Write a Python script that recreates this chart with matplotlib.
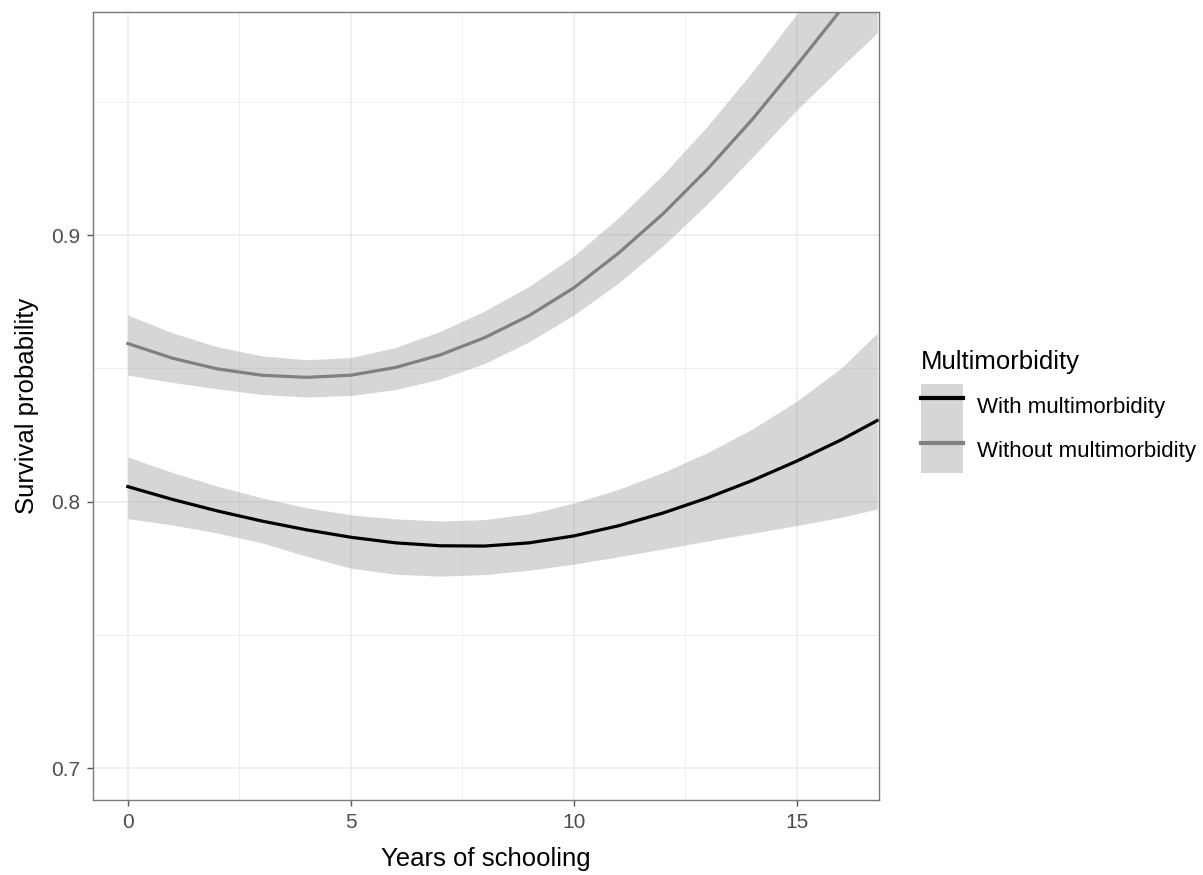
import matplotlib
matplotlib.use("Agg")
import matplotlib.pyplot as plt
from matplotlib.patches import Patch
from matplotlib.lines import Line2D

plt.rcParams["font.family"] = ["Liberation Sans", "DejaVu Sans"]

years = [0, 1, 2, 3, 4, 5, 6, 7, 8, 9, 10, 11, 12, 13, 14, 15, 16, 16.8]

# With multimorbidity (black)
with_fit = [0.8056, 0.8008, 0.7965, 0.7927, 0.7894, 0.7866, 0.7845, 0.7834, 0.7833,
            0.7845, 0.7871, 0.7909, 0.7957, 0.8014, 0.8079, 0.8152, 0.8232, 0.8304]
with_hi = [0.8167, 0.8109, 0.8058, 0.8014, 0.7977, 0.7950, 0.7935, 0.7927, 0.7932,
           0.7954, 0.7994, 0.8046, 0.8109, 0.8184, 0.8272, 0.8377, 0.8502, 0.8632]
with_lo = [0.7936, 0.7912, 0.7882, 0.7845, 0.7795, 0.7750, 0.7727, 0.7720, 0.7726,
           0.7742, 0.7765, 0.7793, 0.7822, 0.7852, 0.7881, 0.7910, 0.7941, 0.7972]

# Without multimorbidity (grey)
without_fit = [0.8593, 0.8538, 0.8498, 0.8474, 0.8466, 0.8474, 0.8503, 0.8550, 0.8615,
               0.8698, 0.8802, 0.8932, 0.9080, 0.9248, 0.9434, 0.9638, 0.9848, 0.9980]
without_hi = [0.8700, 0.8633, 0.8581, 0.8547, 0.8532, 0.8540, 0.8578, 0.8638, 0.8715,
              0.8808, 0.8922, 0.9065, 0.9227, 0.9410, 0.9612, 0.9830, 0.9950, 0.9990]
without_lo = [0.8474, 0.8447, 0.8423, 0.8402, 0.8392, 0.8398, 0.8420, 0.8460, 0.8518,
              0.8600, 0.8700, 0.8820, 0.8960, 0.9118, 0.9292, 0.9470, 0.9632, 0.9758]

labels = ["With multimorbidity", "Without multimorbidity"]

W, H = 1203, 875
fig = plt.figure(figsize=(W / 100, H / 100), dpi=100)
ax = fig.add_axes([93 / W, 1 - 800 / H, 786 / W, 788 / H])

# ggplot-like theme_bw panel
ax.set_xlim(-0.78, 16.84)
ax.set_ylim(0.688, 0.9837)
ax.set_xticks([0, 5, 10, 15])
ax.set_xticks([2.5, 7.5, 12.5], minor=True)
ax.set_yticks([0.7, 0.8, 0.9])
ax.set_yticks([0.75, 0.85, 0.95], minor=True)
ax.set_yticklabels(["0.7", "0.8", "0.9"])
ax.grid(which="major", color="#ebebeb", lw=1.1)
ax.grid(which="minor", color="#ebebeb", lw=0.6)
ax.set_axisbelow(True)
for s in ax.spines.values():
    s.set_color("#7a7a7a")
    s.set_linewidth(1.0)
ax.tick_params(which="major", length=4.3, width=1.0, color="#555555",
               labelcolor="#4d4d4d", labelsize=15, pad=5)
ax.tick_params(which="minor", length=0)

band = "#999999"
ax.fill_between(years, with_lo, with_hi, color=band, alpha=0.4, lw=0)
ax.fill_between(years, without_lo, without_hi, color=band, alpha=0.4, lw=0)
ax.plot(years, with_fit, color="black", lw=2.3)
ax.plot(years, without_fit, color="#808080", lw=2.3)

ax.set_xlabel("Years of schooling", fontsize=18.5, labelpad=11)
ax.set_ylabel("Survival probability", fontsize=18.5, labelpad=8.5)

key = Patch(facecolor=band, alpha=0.4, lw=0)
handles = [(key, Line2D([], [], color="black", lw=3)),
           (key, Line2D([], [], color="#808080", lw=3))]
leg = fig.legend(handles=handles, labels=labels, title="Multimorbidity",
                 loc="upper left", bbox_to_anchor=(912 / W, 1 - 341 / H),
                 borderaxespad=0, frameon=False, fontsize=16, title_fontsize=18.5,
                 handlelength=1.9, handleheight=2.72, labelspacing=0,
                 handletextpad=0.62, alignment="left")
leg._legend_box.sep = 7  # gap between title and keys, in points

fig.savefig("out.png", dpi=100)
